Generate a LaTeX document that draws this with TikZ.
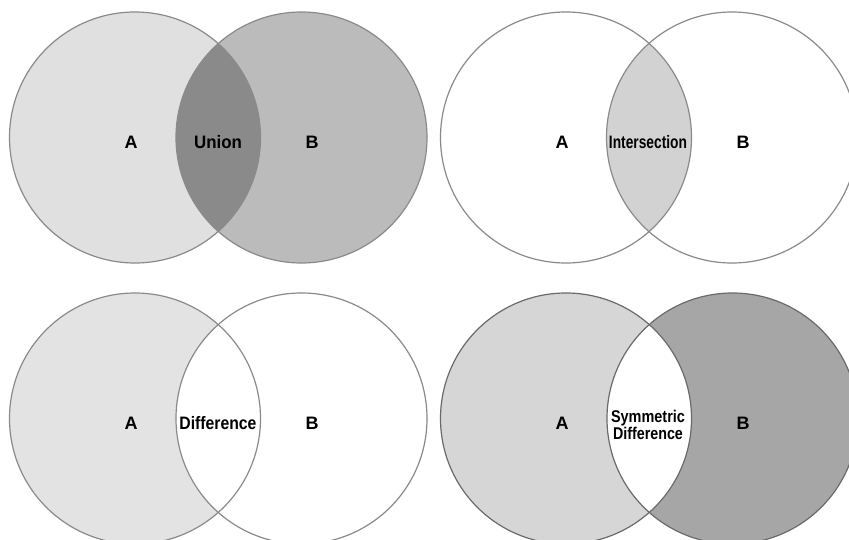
\documentclass[tikz,border=0pt]{standalone}
\usepackage{fontspec}
\setmainfont{Liberation Sans}
\definecolor{ringgray}{HTML}{8A8A8A}
\definecolor{ringdark}{HTML}{6A6A6A}
\definecolor{uA}{HTML}{E0E0E0}
\definecolor{uB}{HTML}{BBBBBB}
\definecolor{uL}{HTML}{8A8A8A}
\definecolor{iL}{HTML}{D2D2D2}
\definecolor{dA}{HTML}{E3E3E3}
\definecolor{sA}{HTML}{D6D6D6}
\definecolor{sB}{HTML}{A6A6A6}
\tikzset{
  lbl/.style={font=\bfseries\fontsize{18}{18}\selectfont, inner sep=0pt, align=center},
  ring/.style={draw=ringgray, line width=1.2pt},
  ringd/.style={draw=ringdark, line width=1.2pt}
}
\begin{document}
\begin{tikzpicture}[x=1pt,y=-1pt]
\useasboundingbox (0,0) rectangle (849,540);
\clip (0,0) rectangle (849,540);
\fill[white] (0,0) rectangle (849,540);
% ---- Union (top-left)
\fill[uA] (135,137.5) circle (125.5);
\fill[uB] (301.5,137.5) circle (125.5);
\begin{scope}
  \clip (135,137.5) circle (125.5);
  \fill[uL] (301.5,137.5) circle (125.5);
\end{scope}
\draw[ring] (135,137.5) circle (125.5);
\draw[ring] (301.5,137.5) circle (125.5);
\node[lbl] (uA1) at (131,142) {A};
\node[lbl] (uU) at (218,142) {\scalebox{0.94}[1]{Union}};
\node[lbl] (uB1) at (312,142) {B};
% ---- Intersection (top-right)
\begin{scope}
  \clip (566,137.5) circle (125.5);
  \fill[iL] (732,137.5) circle (125.5);
\end{scope}
\draw[ring] (566,137.5) circle (125.5);
\draw[ring] (732,137.5) circle (125.5);
\node[lbl] (iA1) at (562,142) {A};
\node[lbl] (iI) at (648,142) {\scalebox{0.765}[1]{Intersection}};
\node[lbl] (iB1) at (743,142) {B};
% ---- Difference (bottom-left)
\fill[dA] (135,418.5) circle (125.5);
\fill[white] (301.5,418.5) circle (125.5);
\draw[ring] (135,418.5) circle (125.5);
\draw[ring] (301.5,418.5) circle (125.5);
\node[lbl] (dA1) at (131,423) {A};
\node[lbl] (dD) at (218,423) {\scalebox{0.875}[1]{Difference}};
\node[lbl] (dB1) at (312,423) {B};
% ---- Symmetric difference (bottom-right)
\fill[sA] (566,418.5) circle (125.5);
\fill[sB] (732.5,418.5) circle (125.5);
\begin{scope}
  \clip (566,418.5) circle (125.5);
  \fill[white] (732.5,418.5) circle (125.5);
\end{scope}
\draw[ringd] (566,418.5) circle (125.5);
\draw[ringd] (732.5,418.5) circle (125.5);
\node[lbl] (sA1) at (562,423) {A};
\node[lbl,font=\bfseries\fontsize{17}{15}\selectfont] (sS) at (648,425) {\scalebox{0.85}[1]{Symmetric}\\\scalebox{0.84}[1]{Difference}};
\node[lbl] (sB1) at (743,423) {B};
\end{tikzpicture}
\end{document}
